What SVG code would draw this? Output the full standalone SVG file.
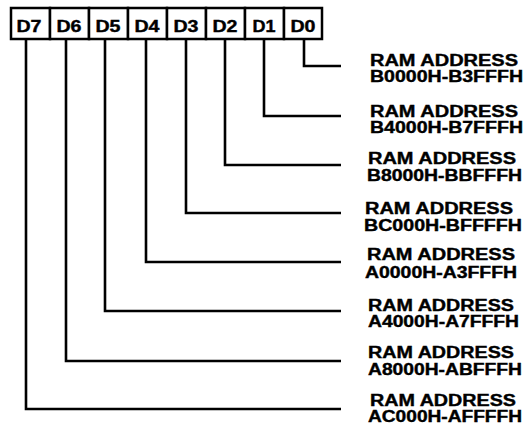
<svg xmlns="http://www.w3.org/2000/svg" width="526" height="430" viewBox="0 0 526 430">
<style>
  .box { fill: #ffffff; stroke: #000000; stroke-width: 2.5; }
  .bit { font-family: "Liberation Sans", Arial, sans-serif; font-weight: bold; font-size: 16px; fill: #000000; stroke: #000000; stroke-width: 0.4; text-anchor: middle; }
  .lbl { font-family: "Liberation Sans", Arial, sans-serif; font-weight: bold; font-size: 16px; fill: #000000; stroke: #000000; stroke-width: 0.4; }
  .wire { fill: none; stroke: #000000; stroke-width: 2.6; stroke-linejoin: miter; }
</style>
<rect x="0" y="0" width="526" height="430" fill="#ffffff"/>
<g id="register">
  <g id="bit-D7"><rect class="box" x="11" y="8" width="39" height="31"/><text class="bit" x="29" y="32" textLength="25" lengthAdjust="spacingAndGlyphs">D7</text></g>
  <g id="bit-D6"><rect class="box" x="50" y="8" width="39" height="31"/><text class="bit" x="69" y="32" textLength="25" lengthAdjust="spacingAndGlyphs">D6</text></g>
  <g id="bit-D5"><rect class="box" x="89" y="8" width="39" height="31"/><text class="bit" x="108" y="32" textLength="25" lengthAdjust="spacingAndGlyphs">D5</text></g>
  <g id="bit-D4"><rect class="box" x="128" y="8" width="39" height="31"/><text class="bit" x="147" y="32" textLength="25" lengthAdjust="spacingAndGlyphs">D4</text></g>
  <g id="bit-D3"><rect class="box" x="167" y="8" width="39" height="31"/><text class="bit" x="186" y="32" textLength="25" lengthAdjust="spacingAndGlyphs">D3</text></g>
  <g id="bit-D2"><rect class="box" x="206" y="8" width="39" height="31"/><text class="bit" x="225" y="32" textLength="25" lengthAdjust="spacingAndGlyphs">D2</text></g>
  <g id="bit-D1"><rect class="box" x="245" y="8" width="39" height="31"/><text class="bit" x="264" y="32" textLength="23" lengthAdjust="spacingAndGlyphs">D1</text></g>
  <g id="bit-D0"><rect class="box" x="284" y="8" width="38" height="31"/><text class="bit" x="303" y="32" textLength="25" lengthAdjust="spacingAndGlyphs">D0</text></g>
</g>
<g id="connectors">
  <polyline class="wire" points="304,39 304,66 341,66"/>
  <polyline class="wire" points="264,39 264,116 341,116"/>
  <polyline class="wire" points="225,39 225,165 341,165"/>
  <polyline class="wire" points="186,39 186,213 341,213"/>
  <polyline class="wire" points="146,39 146,262 341,262"/>
  <polyline class="wire" points="105,39 105,311 341,311"/>
  <polyline class="wire" points="66,39 66,361 341,361"/>
  <polyline class="wire" points="26,39 26,409 341,409"/>
</g>
<g id="label-D0"><text class="lbl" x="370" y="66" textLength="148" lengthAdjust="spacingAndGlyphs">RAM ADDRESS</text><text class="lbl" x="370" y="82" textLength="153" lengthAdjust="spacingAndGlyphs">B0000H-B3FFFH</text></g>
<g id="label-D1"><text class="lbl" x="370" y="117" textLength="148" lengthAdjust="spacingAndGlyphs">RAM ADDRESS</text><text class="lbl" x="370" y="133" textLength="153" lengthAdjust="spacingAndGlyphs">B4000H-B7FFFH</text></g>
<g id="label-D2"><text class="lbl" x="368" y="164" textLength="148" lengthAdjust="spacingAndGlyphs">RAM ADDRESS</text><text class="lbl" x="367" y="181" textLength="155" lengthAdjust="spacingAndGlyphs">B8000H-BBFFFH</text></g>
<g id="label-D3"><text class="lbl" x="365" y="214" textLength="148" lengthAdjust="spacingAndGlyphs">RAM ADDRESS</text><text class="lbl" x="364" y="231" textLength="158" lengthAdjust="spacingAndGlyphs">BC000H-BFFFFH</text></g>
<g id="label-D4"><text class="lbl" x="367" y="260" textLength="148" lengthAdjust="spacingAndGlyphs">RAM ADDRESS</text><text class="lbl" x="365" y="278" textLength="152" lengthAdjust="spacingAndGlyphs">A0000H-A3FFFH</text></g>
<g id="label-D5"><text class="lbl" x="368" y="311" textLength="146" lengthAdjust="spacingAndGlyphs">RAM ADDRESS</text><text class="lbl" x="368" y="327" textLength="151" lengthAdjust="spacingAndGlyphs">A4000H-A7FFFH</text></g>
<g id="label-D6"><text class="lbl" x="368" y="358" textLength="146" lengthAdjust="spacingAndGlyphs">RAM ADDRESS</text><text class="lbl" x="368" y="375" textLength="154" lengthAdjust="spacingAndGlyphs">A8000H-ABFFFH</text></g>
<g id="label-D7"><text class="lbl" x="370" y="406" textLength="146" lengthAdjust="spacingAndGlyphs">RAM ADDRESS</text><text class="lbl" x="368" y="422" textLength="154" lengthAdjust="spacingAndGlyphs">AC000H-AFFFFH</text></g>
</svg>
